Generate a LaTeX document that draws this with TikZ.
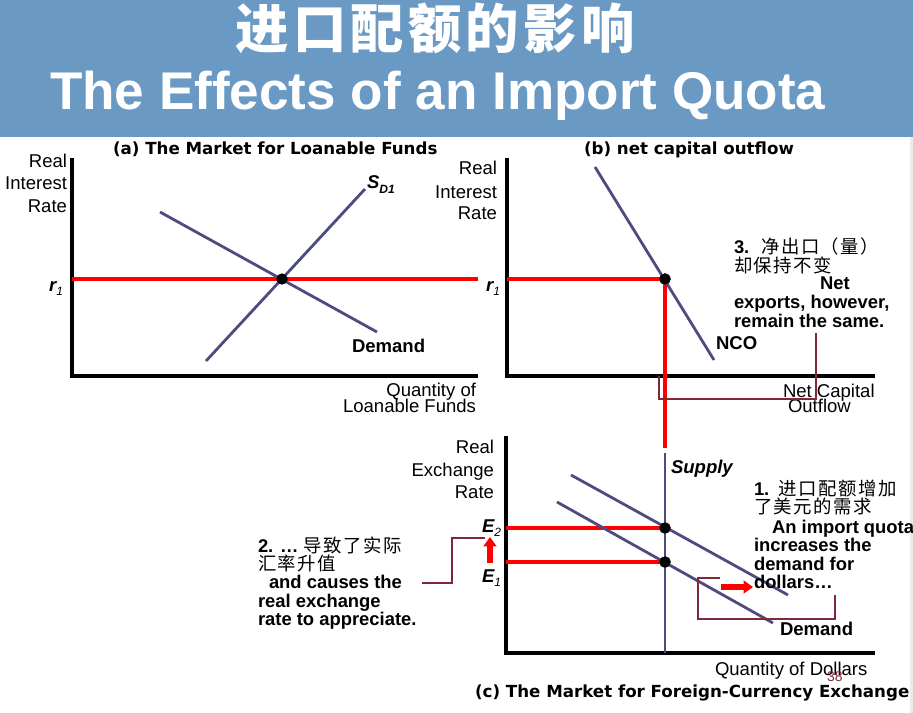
\documentclass[tikz,border=0pt]{standalone}
\usepackage{fontspec}
\usetikzlibrary{arrows.meta}
\setmainfont{Liberation Sans}
\newfontfamily\cjkfont{Noto Sans CJK SC}[LetterSpace=8]
\newfontfamily\panelfont{DejaVu Sans}

\definecolor{bandblue}{RGB}{106,154,196}
\definecolor{curvecol}{RGB}{76,76,128}
\definecolor{calloutcol}{RGB}{128,40,56}
\definecolor{edgegray}{RGB}{235,235,235}

\newcommand{\lblsize}{\fontsize{13.9}{16}\selectfont}
\newcommand{\subfont}{\fontsize{9}{9}\selectfont}

\begin{document}
\begin{tikzpicture}[x=0.75pt,y=-0.75pt,
  txt/.style={inner sep=0pt,outer sep=0pt},
  axislbl/.style={txt,anchor=base east,font=\lblsize},
  boldlbl/.style={txt,anchor=base west,font=\lblsize\bfseries},
  notelbl/.style={txt,anchor=base west,font=\fontsize{13.8}{16}\selectfont\bfseries},
  paneltitle/.style={txt,anchor=base west,font=\panelfont\fontsize{12.5}{14}\selectfont\bfseries},
  axisline/.style={line width=2.3pt},
  curveline/.style={draw=curvecol,line width=2.1pt},
  redline/.style={draw=red,line width=2.3pt},
  calloutline/.style={draw=calloutcol,line width=1pt},
  eqdot/.style={circle,fill=black,inner sep=0pt,minimum size=8.5pt},
  shiftarrow/.style={draw=red,line width=4.5pt,-{Triangle[width=9.5pt,length=7pt]}}
]
\useasboundingbox (0,0) rectangle (913,713);

% ---------- header band ----------
\fill[bandblue] (0,0) rectangle (913,137);
\fill[edgegray] (910,137) rectangle (913,713);
\node[txt,anchor=base,text=white,font=\cjkfont\bfseries\fontsize{40}{44}\selectfont] (titlecn) at (435,49) {进口配额的影响};
\node[txt,anchor=base west,text=white,font=\fontsize{39.8}{44}\selectfont\bfseries] (titleen) at (50,110) {The Effects of an Import Quota};

% ---------- (a) loanable funds ----------
\node[paneltitle] (atitle) at (113,155) {(a) The Market for Loanable Funds};
\coordinate (aTop) at (72,158);
\coordinate (aO) at (72,376);
\coordinate (aEnd) at (478,376);
\draw[axisline] (aTop) -- (aO) -- (aEnd);
\node[axislbl] (ay1) at (67,167) {Real};
\node[axislbl] (ay2) at (67,190) {Interest};
\node[axislbl] (ay3) at (67,212) {Rate};
\node[axislbl] (ax1) at (476,396) {Quantity of};
\node[axislbl] (ax2) at (476,412) {Loanable Funds};
\coordinate (aR0) at (72,279);
\coordinate (aR1) at (478,279);
\draw[redline] (aR0) -- (aR1);
\coordinate (aD0) at (160,212);
\coordinate (aD1) at (377,332);
\coordinate (aS0) at (206,361);
\coordinate (aS1) at (365,189);
\draw[curveline] (aD0) -- (aD1);
\draw[curveline] (aS0) -- (aS1);
\node[eqdot] (aE) at (282,279) {};
\node[txt,anchor=base east,font=\lblsize\bfseries\itshape] (ar1) at (63,291) {r\raisebox{-0.45ex}{\subfont\mdseries 1}};
\node[txt,anchor=base west,font=\lblsize\bfseries\itshape] (aSlbl) at (367,189) {S\raisebox{-0.45ex}{\subfont D1}};
\node[boldlbl] (aDlbl) at (352,352) {Demand};

% ---------- (b) net capital outflow ----------
\node[paneltitle] (btitle) at (584,155) {(b) net capital outflow};
\coordinate (bTop) at (507,158);
\coordinate (bO) at (507,376);
\coordinate (bEnd) at (875,376);
\draw[axisline] (bTop) -- (bO) -- (bEnd);
\node[axislbl] (by1) at (497,175) {Real};
\node[axislbl] (by2) at (497,198) {Interest};
\node[axislbl] (by3) at (497,219) {Rate};
\node[txt,anchor=base west,font=\lblsize] (bx1) at (783,397) {Net Capital};
\node[txt,anchor=base west,font=\lblsize] (bx2) at (788,412) {Outflow};
\node[txt,anchor=base east,font=\lblsize\bfseries\itshape] (br1) at (500,291) {r\raisebox{-0.45ex}{\subfont\mdseries 1}};
\coordinate (bR0) at (507,279);
\coordinate (bDrop) at (665,448);
\coordinate (bN0) at (595,167);
\coordinate (bN1) at (714,360);
\node[eqdot] (bE) at (665,279) {};
\draw[redline] (bR0) -- (bE.center) -- (bDrop);
\draw[curveline] (bN0) -- (bN1);
\node[eqdot] at (bE) {};
\node[boldlbl] (bNlbl) at (716,349) {NCO};
% note 3
\node[notelbl] (n3a) at (734,253) {3.\hspace{9pt}{\cjkfont\mdseries 净出口（量）}};
\node[notelbl] (n3b) at (734,272) {{\cjkfont\mdseries 却保持不变}};
\node[notelbl] (n3c) at (820,289) {Net};
\node[notelbl] (n3d) at (734,308) {exports, however,};
\node[notelbl] (n3e) at (734,327) {remain the same.};
\coordinate (c3a) at (816,333);
\coordinate (c3b) at (816,399);
\coordinate (c3c) at (659,399);
\coordinate (c3d) at (659,376);
\draw[calloutline] (c3a) -- (c3b) -- (c3c) -- (c3d);

% ---------- (c) foreign-currency exchange ----------
\node[paneltitle] (ctitle) at (475,697) {(c) The Market for Foreign-Currency Exchange};
\coordinate (cTop) at (506,436);
\coordinate (cO) at (506,653);
\coordinate (cEnd) at (875,653);
\draw[axisline] (cTop) -- (cO) -- (cEnd);
\node[axislbl] (cy1) at (494,453) {Real};
\node[axislbl] (cy2) at (494,476) {Exchange};
\node[axislbl] (cy3) at (494,498) {Rate};
\node[txt,anchor=base west,font=\lblsize] (cx1) at (715,675) {Quantity of Dollars};
\node[txt,anchor=base west,text=calloutcol,font=\fontsize{10.5}{12}\selectfont] (pgnum) at (827,681) {38};
\coordinate (cE2a) at (506,528);
\coordinate (cE1a) at (506,562);
\coordinate (cSup0) at (665,453);
\coordinate (cSup1) at (665,653);
\node[eqdot] (cE2) at (665,528) {};
\node[eqdot] (cE1) at (665,562) {};
\draw[redline] (cE2a) -- (cE2.center);
\draw[redline] (cE1a) -- (cE1.center);
\draw[curveline] (cSup0) -- (cSup1);
\coordinate (cD20) at (571,475);
\coordinate (cD21) at (788,595);
\coordinate (cD10) at (557,502);
\coordinate (cD11) at (773,623);
\draw[curveline] (cD20) -- (cD21);
\draw[curveline] (cD10) -- (cD11);
\node[eqdot] at (cE2) {};
\node[eqdot] at (cE1) {};
\node[txt,anchor=base west,font=\lblsize\bfseries\itshape] (cE2lbl) at (482,532) {E\raisebox{-0.45ex}{\subfont\mdseries 2}};
\node[txt,anchor=base west,font=\lblsize\bfseries\itshape] (cE1lbl) at (482,582) {E\raisebox{-0.45ex}{\subfont\mdseries 1}};
\node[txt,anchor=base west,font=\lblsize\bfseries\itshape] (cSlbl) at (671,473) {Supply};
\node[boldlbl] (cDlbl) at (780,635) {Demand};
% shift arrows
\coordinate (upA) at (490,563);
\coordinate (upB) at (490,537);
\draw[shiftarrow] (upA) -- (upB);
\coordinate (rtA) at (721,587);
\coordinate (rtB) at (753,587);
\draw[shiftarrow] (rtA) -- (rtB);
% note 1
\node[notelbl] (n1a) at (754,495) {1.\hspace{7pt}{\cjkfont\mdseries 进口配额增加}};
\node[notelbl] (n1b) at (754,513) {{\cjkfont\mdseries 了美元的需求}};
\node[notelbl] (n1c) at (772,533) {An import quota};
\node[notelbl] (n1d) at (754,551) {increases the};
\node[notelbl] (n1e) at (754,570) {demand for};
\node[notelbl] (n1f) at (754,588) {dollars…};
\coordinate (c1a) at (720,578);
\coordinate (c1b) at (698,578);
\coordinate (c1c) at (698,619);
\coordinate (c1d) at (835,619);
\coordinate (c1e) at (835,595);
\draw[calloutline] (c1a) -- (c1b) -- (c1c) -- (c1d) -- (c1e);
% note 2
\node[notelbl] (n2a) at (258,552) {2. …\hspace{4pt}{\cjkfont\mdseries 导致了实际}};
\node[notelbl] (n2b) at (258,570) {{\cjkfont\mdseries 汇率升值}};
\node[notelbl] (n2c) at (269,588) {and causes the};
\node[notelbl] (n2d) at (258,607) {real exchange};
\node[notelbl] (n2e) at (258,625) {rate to appreciate.};
\coordinate (c2a) at (422,583);
\coordinate (c2b) at (452,583);
\coordinate (c2c) at (452,538);
\coordinate (c2d) at (485,538);
\draw[calloutline] (c2a) -- (c2b) -- (c2c) -- (c2d);
\end{tikzpicture}
\end{document}
